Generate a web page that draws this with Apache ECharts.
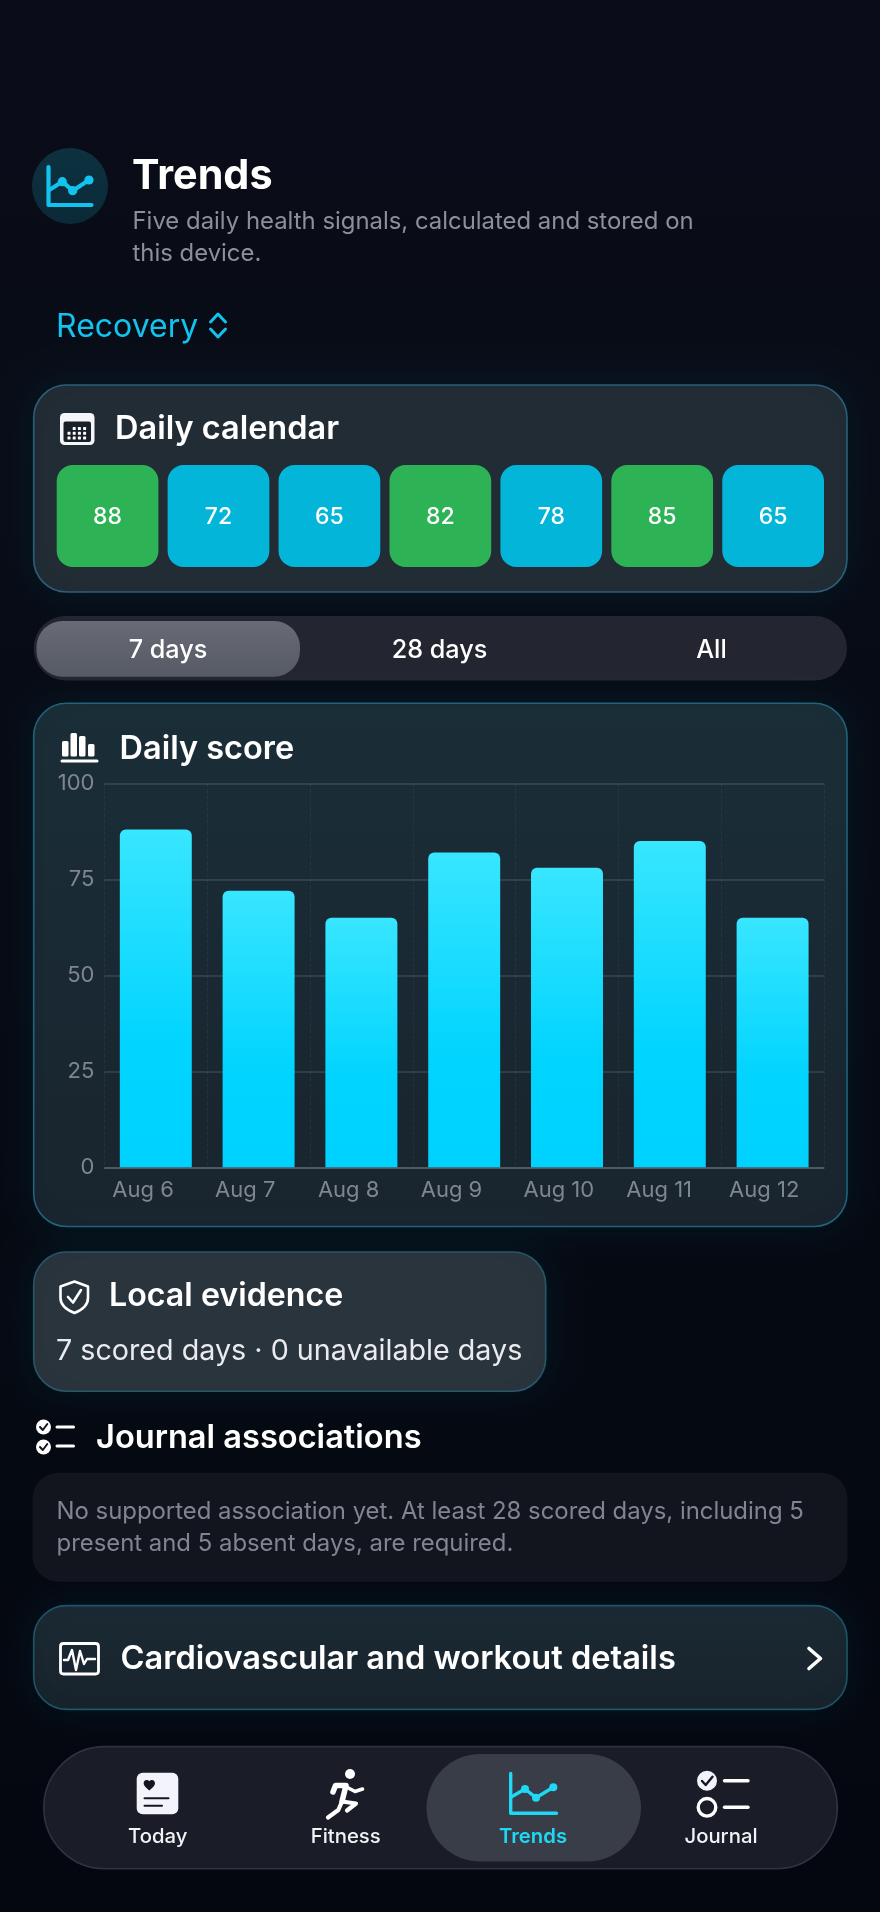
<!DOCTYPE html>
<html lang="en">
<head>
<meta charset="utf-8">
<title>Trends</title>
<style>
html, body { margin: 0; padding: 0; background: #070a14; }
#chart { width: 880px; height: 1912px; }
</style>
<script src="https://cdn.jsdelivr.net/npm/echarts@6/dist/echarts.min.js"></script>
</head>
<body>
<div id="chart"></div>
<script>
const days = ['Aug 6', 'Aug 7', 'Aug 8', 'Aug 9', 'Aug 10', 'Aug 11', 'Aug 12'];
const dailyScores = [88, 72, 65, 82, 78, 85, 65];
const calendarScores = [88, 72, 65, 82, 78, 85, 65];
const scoreTicks = [0, 25, 50, 75, 100];
const ranges = ['7 days', '28 days', 'All'];
const tabs = ['Today', 'Fitness', 'Trends', 'Journal'];

const FONT = 'Inter, "Noto Sans", sans-serif';
const WHITE = '#ffffff';
const CYAN = '#12c3ee';
const TAB_CYAN = '#1fd8f6';
const DARK = '#14161f';
const MUTED = '#8c909b';
const AXIS_TEXT = '#80868e';

const vgrad = (top, bottom) => ({
    type: 'linear', x: 0, y: 0, x2: 0, y2: 1,
    colorStops: [{ offset: 0, color: top }, { offset: 1, color: bottom }],
});

const card = (x, y, w, h, r, fill, stroke, glow) => ({
    type: 'rect',
    z: -10,
    shape: { x, y, width: w, height: h, r },
    style: {
        fill,
        stroke: stroke || 'none',
        lineWidth: stroke ? 1.6 : 0,
        shadowColor: glow ? 'rgba(0,170,220,0.10)' : 'transparent',
        shadowBlur: glow ? 34 : 0,
    },
});

const text = (str, x, y, size, weight, fill, align) => ({
    type: 'text',
    z: 5,
    style: {
        text: str, x, y: y + 1.5, fill,
        font: `${weight} ${size}px ${FONT}`,
        textAlign: align || 'left',
        textVerticalAlign: 'middle',
    },
});

// the graphic component has no plain path type, so each icon path gets its own shape class
let iconCount = 0;
const iconShape = (d) => {
    const name = `icon${iconCount++}`;
    echarts.graphic.registerShape(name, echarts.graphic.extendPath(d, {}));
    return name;
};

const stroke = (d, color, width) => ({
    type: iconShape(d),
    z: 5,
    style: { fill: 'none', stroke: color, lineWidth: width, lineCap: 'round', lineJoin: 'round' },
});

const solid = (d, color) => ({
    type: iconShape(d),
    z: 5,
    style: { fill: color, stroke: 'none' },
});

const dot = (cx, cy, r, color) => ({
    type: 'circle',
    z: 5,
    shape: { cx, cy, r },
    style: { fill: color },
});

const ring = (cx, cy, r, color, width) => ({
    type: 'circle',
    z: 5,
    shape: { cx, cy, r },
    style: { fill: 'none', stroke: color, lineWidth: width },
});

const box = (x, y, w, h, r, fill) => ({
    type: 'rect',
    z: 5,
    shape: { x, y, width: w, height: h, r },
    style: { fill },
});

const line = (x1, y1, x2, y2, color, width) => stroke(`M${x1} ${y1}L${x2} ${y2}`, color, width);

// calendar icon dots
const calendarDots = [];
[0, 1, 2].forEach((row) => {
    [0, 1, 2, 3].forEach((col) => {
        if (row === 0 && col === 0) return;
        calendarDots.push(box(67.5 + col * 5.2, 427 + row * 4.8, 3, 3, 0.6, WHITE));
    });
});

const graphics = [
    // header
    { type: 'circle', z: -10, shape: { cx: 70, cy: 186, r: 38 }, style: { fill: vgrad('#0d3140', '#0b2a38') } },
    stroke('M48.5 167V205H91.5', CYAN, 4.2),
    stroke('M50 189.5L62.3 181.7L72.7 190.7L89 180', CYAN, 4.2),
    dot(62.3, 181.7, 4.6, CYAN),
    dot(72.7, 190.7, 4.6, CYAN),
    dot(89, 180, 4.6, CYAN),
    text('Trends', 132, 175.5, 41.3, 700, WHITE),
    text('Five daily health signals, calculated and stored on', 132.5, 220.5, 23.9, 400, MUTED),
    text('this device.', 132.5, 252.5, 23.9, 400, MUTED),
    text('Recovery', 56, 325.5, 32, 400, CYAN),
    stroke('M210.5 322L218 314L225.5 322', CYAN, 3),
    stroke('M210.5 329L218 337L225.5 329', CYAN, 3),

    // calendar card
    card(33.7, 385, 813.3, 207, 33, '#212c35', '#2b6075', true),
    box(60, 413, 34.5, 32, 4.5, '#f4f6fa'),
    box(63.5, 421.5, 27.5, 20.5, 2, '#1a2028'),
    ...calendarDots,
    text('Daily calendar', 115, 428, 32.5, 600, WHITE),

    // range switch
    card(33.7, 616, 813.3, 64.5, 32, '#232630'),
    { type: 'rect', z: -9, shape: { x: 36.5, y: 621, width: 263.5, height: 55.7, r: 26 }, style: { fill: vgrad('#686b75', '#565a65') } },
    text(ranges[0], 168, 648.5, 25.2, 500, WHITE, 'center'),
    text(ranges[1], 439.5, 648.5, 25.2, 500, WHITE, 'center'),
    text(ranges[2], 711.5, 648.5, 25.2, 500, WHITE, 'center'),

    // score card
    card(33.7, 703.3, 813.3, 523.2, 33, vgrad('#1a2e38', '#19242e'), '#1f6478', true),
    box(62, 741, 6.5, 15.5, 1.5, WHITE),
    box(70.5, 733, 6.5, 23.5, 1.5, WHITE),
    box(79, 736, 6.5, 20.5, 1.5, WHITE),
    box(88, 744, 6.5, 12.5, 1.5, WHITE),
    line(62, 761, 97, 761, WHITE, 3),
    text('Daily score', 119.5, 747.5, 32.5, 600, WHITE),

    // local evidence
    card(33.7, 1252, 512, 139.3, 33, '#2a343c', '#27576b', true),
    stroke('M74.5 1281.5L88 1286.5V1298C88 1305 82 1310 74.5 1313C67 1310 60.5 1305 60.5 1298V1286.5Z', WHITE, 2.6),
    stroke('M68 1297L73 1302.5L81 1290', WHITE, 2.6),
    text('Local evidence', 109, 1295, 32.2, 600, WHITE),
    text('7 scored days \u00b7 0 unavailable days', 56, 1349.5, 28.7, 400, '#e9ebee'),

    // journal associations
    dot(43.5, 1427, 7.5, WHITE),
    stroke('M40 1427L42.8 1430L47.3 1424', DARK, 2),
    dot(43.5, 1447, 7.5, WHITE),
    stroke('M40 1447L42.8 1450L47.3 1444', DARK, 2),
    line(57, 1427, 73.5, 1427, WHITE, 3),
    line(57, 1446, 73.5, 1446, WHITE, 3),
    text('Journal associations', 96, 1436.5, 32.6, 600, WHITE),
    card(32.5, 1472.7, 815, 109, 26, '#12151e'),
    text('No supported association yet. At least 28 scored days, including 5', 56.5, 1510.5, 23.9, 400, '#81858f'),
    text('present and 5 absent days, are required.', 56.5, 1542.5, 23.9, 400, '#81858f'),

    // details link
    card(33.7, 1605.6, 813.3, 103.8, 33, vgrad('#1b2a34', '#18232c'), '#1f5568', true),
    stroke('M63.5 1643.5H95.5Q98.5 1643.5 98.5 1646.5V1671Q98.5 1674 95.5 1674H63.5Q60.5 1674 60.5 1671V1646.5Q60.5 1643.5 63.5 1643.5Z', WHITE, 2.8),
    stroke('M64 1660H68L72 1650L76 1670L80 1651L84 1664L87 1659H95', WHITE, 2.4),
    text('Cardiovascular and workout details', 120.5, 1657.5, 32.6, 600, WHITE),
    stroke('M809 1648.5L820.5 1658.5L809 1668.5', WHITE, 3.6),

    // tab bar
    card(43.8, 1746.6, 793.5, 122.2, 61, '#1a1c27', '#2f3340'),
    { type: 'rect', z: -9, shape: { x: 426.5, y: 1754, width: 214.5, height: 107.5, r: 53.7 }, style: { fill: '#393d48' } },
    box(136.7, 1772.7, 41.6, 41.6, 6, '#f3f4fb'),
    solid('M149.3 1790.5C146 1787.8 143.6 1785.6 143.6 1783.2C143.6 1779.8 147.6 1778.8 149.3 1781.3C151 1778.8 155 1779.8 155 1783.2C155 1785.6 152.6 1787.8 149.3 1790.5Z', DARK),
    line(144.5, 1798.3, 168.5, 1798.3, DARK, 2),
    line(144.5, 1805.7, 162, 1805.7, DARK, 2),
    dot(350, 1774, 5, WHITE),
    stroke('M333 1792L335.5 1785.5H346L342 1801.5', WHITE, 5.5),
    stroke('M346.5 1787L355 1791.5L362.5 1789', WHITE, 3.6),
    stroke('M342 1801.5L356 1803.5L347 1810.5', WHITE, 4.2),
    stroke('M342 1801.5L338.3 1810L328 1817.5', WHITE, 4.2),
    stroke('M510.7 1773.5V1813.3H556.5', TAB_CYAN, 3.4),
    stroke('M511.7 1796.7L525 1789L536 1797.7L553.3 1787.3', TAB_CYAN, 3.4),
    dot(525, 1789, 4, TAB_CYAN),
    dot(536, 1797.7, 4, TAB_CYAN),
    dot(553.3, 1787.3, 4, TAB_CYAN),
    dot(707, 1780.7, 10, '#f3f4fb'),
    stroke('M702 1781L705.7 1785L712.5 1776.7', DARK, 2.4),
    line(724.5, 1780.7, 748, 1780.7, WHITE, 3.4),
    ring(707, 1807.3, 8.8, WHITE, 3.4),
    line(724.5, 1807.3, 748, 1807.3, WHITE, 3.4),
    text(tabs[0], 157.7, 1835.5, 20.3, 500, '#f2f3f6', 'center'),
    text(tabs[1], 345.7, 1835.5, 20.3, 500, '#f2f3f6', 'center'),
    text(tabs[2], 533, 1835.5, 20.3, 600, TAB_CYAN, 'center'),
    text(tabs[3], 721, 1835.5, 20.3, 500, '#f2f3f6', 'center'),
];

const renderCalendarCell = (params, api) => {
    const centre = api.coord([api.value(0), api.value(1)]);
    const band = api.size([1, 1]);
    const w = band[0] - 9.2;
    const h = band[1];
    const score = api.value(2);
    return {
        type: 'group',
        children: [
            {
                type: 'rect',
                shape: { x: centre[0] - w / 2, y: centre[1] - h / 2, width: w, height: h, r: 16 },
                style: { fill: score >= 80 ? '#2eb256' : '#04b5da' },
            },
            {
                type: 'text',
                style: {
                    text: String(score),
                    x: centre[0],
                    y: centre[1] + 1,
                    fill: WHITE,
                    font: `500 23px ${FONT}`,
                    textAlign: 'center',
                    textVerticalAlign: 'middle',
                },
            },
        ],
    };
};

const chart = echarts.init(document.getElementById('chart'), null, { width: 880, height: 1912, devicePixelRatio: 1 });

chart.setOption({
    animation: false,
    backgroundColor: {
        type: 'linear', x: 0, y: 0, x2: 0, y2: 1,
        colorStops: [
            { offset: 0, color: '#0a0d19' },
            { offset: 0.45, color: '#060b14' },
            { offset: 1, color: '#04070f' },
        ],
    },
    textStyle: { fontFamily: FONT },
    graphic: { elements: graphics },
    grid: [
        { left: 52.1, top: 465, width: 776.5, height: 102, containLabel: false },
        { left: 104.4, top: 783.3, width: 719.6, height: 384, containLabel: false },
    ],
    xAxis: [
        { type: 'category', gridIndex: 0, data: days, show: false },
        {
            type: 'category',
            gridIndex: 1,
            data: days,
            axisTick: { show: false },
            axisLine: { lineStyle: { color: 'rgba(255,255,255,0.2)', width: 1.5 } },
            splitLine: { show: true, lineStyle: { color: 'rgba(255,255,255,0.05)', type: 'dashed', width: 1 } },
            axisLabel: {
                margin: 12,
                interval: 0,
                formatter: (v) => `{day|${v}}`,
                rich: { day: { width: 87, align: 'left', fontSize: 22, color: AXIS_TEXT, fontFamily: FONT } },
            },
        },
    ],
    yAxis: [
        { type: 'category', gridIndex: 0, data: ['score'], show: false },
        {
            type: 'value',
            gridIndex: 1,
            min: scoreTicks[0],
            max: scoreTicks[scoreTicks.length - 1],
            interval: scoreTicks[1] - scoreTicks[0],
            axisLine: { show: false },
            axisTick: { show: false },
            splitLine: { lineStyle: { color: 'rgba(255,255,255,0.14)', width: 1.5 } },
            axisLabel: { margin: 10, fontSize: 22, color: AXIS_TEXT, fontFamily: FONT },
        },
    ],
    series: [
        {
            type: 'custom',
            xAxisIndex: 0,
            yAxisIndex: 0,
            renderItem: renderCalendarCell,
            data: calendarScores.map((score, i) => [i, 0, score]),
            silent: true,
        },
        {
            type: 'bar',
            xAxisIndex: 1,
            yAxisIndex: 1,
            data: dailyScores,
            barWidth: '70%',
            itemStyle: {
                borderRadius: [6, 6, 0, 0],
                color: {
                    type: 'linear', x: 0, y: 0, x2: 0, y2: 1,
                    colorStops: [
                        { offset: 0, color: '#38e6ff' },
                        { offset: 0.65, color: '#00d4ff' },
                        { offset: 1, color: '#00d2ff' },
                    ],
                },
            },
        },
    ],
});

window.addEventListener('resize', chart.resize);
</script>
</body>
</html>
